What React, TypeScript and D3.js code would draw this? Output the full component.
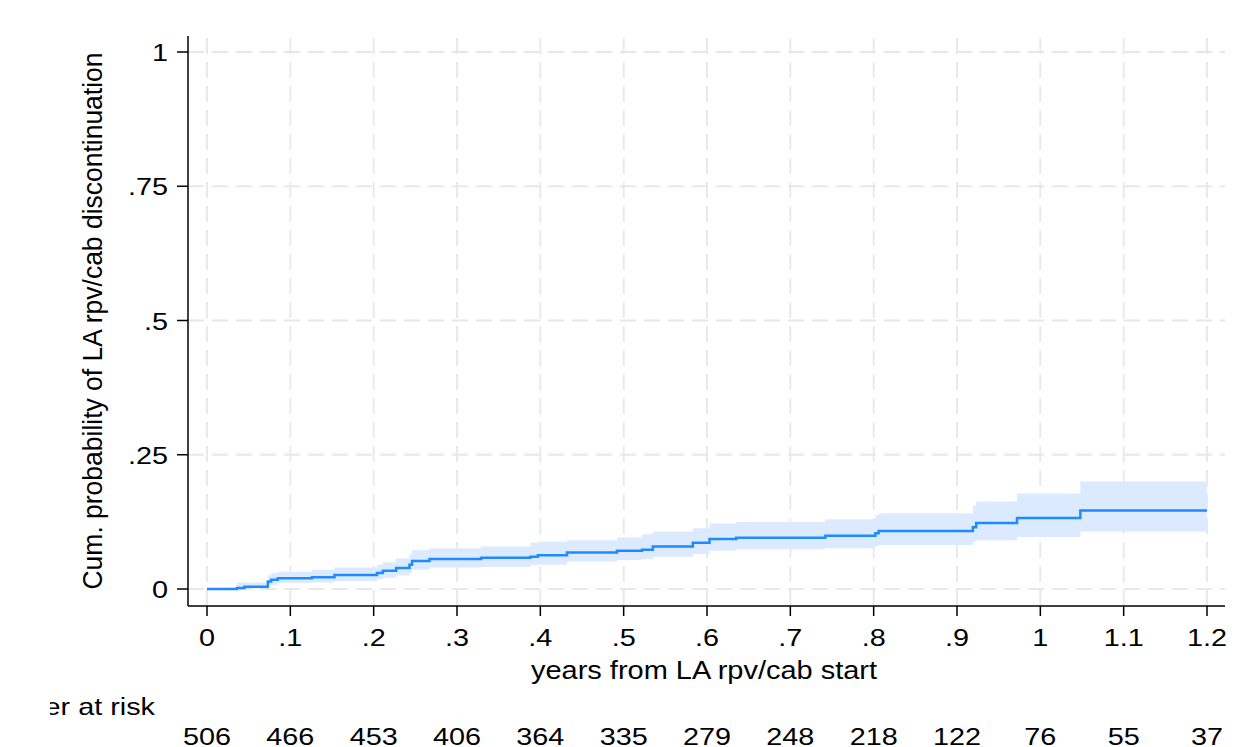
import React, { useEffect } from 'react'
import * as d3 from 'd3'

// step times (years) and cumulative incidence with 95% CI
const times = [0, 0.036, 0.045, 0.073, 0.077, 0.085, 0.126, 0.153, 0.204, 0.211, 0.227, 0.243, 0.246, 0.267, 0.329, 0.388, 0.397, 0.432, 0.492, 0.522, 0.535, 0.583, 0.603, 0.635, 0.742, 0.802, 0.806, 0.919, 0.923, 0.972, 1.048, 1.2]
const est = [0, 0.002, 0.004, 0.014, 0.017, 0.020, 0.022, 0.026, 0.030, 0.034, 0.039, 0.045, 0.052, 0.056, 0.058, 0.060, 0.063, 0.068, 0.071, 0.073, 0.079, 0.086, 0.093, 0.0955, 0.099, 0.104, 0.108, 0.115, 0.123, 0.132, 0.146, 0.146]
const lo = [0, 0, 0.001, 0.006, 0.008, 0.011, 0.012, 0.015, 0.018, 0.021, 0.025, 0.030, 0.036, 0.040, 0.041, 0.044, 0.045, 0.051, 0.054, 0.056, 0.060, 0.065, 0.071, 0.074, 0.076, 0.080, 0.082, 0.088, 0.091, 0.097, 0.107, 0.107]
const hi = [0, 0.012, 0.012, 0.026, 0.030, 0.032, 0.036, 0.040, 0.045, 0.050, 0.057, 0.065, 0.072, 0.076, 0.079, 0.086, 0.088, 0.091, 0.096, 0.102, 0.107, 0.113, 0.122, 0.125, 0.130, 0.138, 0.141, 0.155, 0.163, 0.178, 0.200, 0.200]

const xTicks = [0, 0.1, 0.2, 0.3, 0.4, 0.5, 0.6, 0.7, 0.8, 0.9, 1, 1.1, 1.2]
const xTickLabels = ['0', '.1', '.2', '.3', '.4', '.5', '.6', '.7', '.8', '.9', '1', '1.1', '1.2']
const yTicks = [0, 0.25, 0.5, 0.75, 1]
const yTickLabels = ['0', '.25', '.5', '.75', '1']
const atRisk = [506, 466, 453, 406, 364, 335, 279, 248, 218, 122, 76, 55, 37]

const W = 1254
const H = 747
const FONT = 'Liberation Sans, Arial, sans-serif'
const SX = 1.2 // text in the reference is a bit wide

export default function App() {
	useEffect(() => {
		document.body.style.margin = '0'
	}, [])

	const x = d3.scaleLinear().domain([0, 1.2]).range([207, 1207])
	const y = d3.scaleLinear().domain([0, 1]).range([589, 52])

	const pts = times.map((t, i) => ({ t, e: est[i], l: lo[i], h: hi[i] }))

	const line = d3.line<any>()
		.x(d => x(d.t))
		.y(d => y(d.e))
		.curve(d3.curveStepAfter)

	const band = d3.area<any>()
		.x(d => x(d.t))
		.y0(d => y(d.l))
		.y1(d => y(d.h))
		.curve(d3.curveStepAfter)

	const axisX0 = 188
	const axisX1 = 1225
	const axisY = 606
	const top = 36

	return (
		<svg width={W} height={H} style={{ display: 'block', background: '#fff' }} fontFamily={FONT}>
			<defs>
				<clipPath id="leftclip">
					<rect x={50} y={0} width={W} height={H} />
				</clipPath>
			</defs>

			{/* grid */}
			<g stroke="#e7e7e7" strokeWidth={1.8} strokeDasharray="16 8">
				{xTicks.map((t, i) => (
					<line key={`vg-${i}`} x1={x(t)} x2={x(t)} y1={axisY} y2={top} />
				))}
				{yTicks.map((v, i) => (
					<line key={`hg-${i}`} x1={axisX0} x2={axisX1} y1={y(v)} y2={y(v)} />
				))}
			</g>

			{/* confidence band + estimate */}
			<path d={band(pts) || ''} fill="#dbeaff" stroke="none" />
			<path d={line(pts) || ''} fill="none" stroke="#1e8cff" strokeWidth={2.5} />

			{/* axes */}
			<g stroke="#000" strokeWidth={1.5}>
				<line x1={axisX0} x2={axisX0} y1={top} y2={axisY} />
				<line x1={axisX0} x2={axisX1} y1={axisY} y2={axisY} />
				{xTicks.map((t, i) => (
					<line key={`xt-${i}`} x1={x(t)} x2={x(t)} y1={axisY} y2={axisY + 10} />
				))}
				{yTicks.map((v, i) => (
					<line key={`yt-${i}`} x1={axisX0 - 11} x2={axisX0} y1={y(v)} y2={y(v)} />
				))}
			</g>

			<g fontSize={24} fill="#000">
				{xTicks.map((t, i) => (
					<text key={`xl-${i}`} transform={`translate(${x(t)},646) scale(${SX},1)`} textAnchor="middle">
						{xTickLabels[i]}
					</text>
				))}
				{yTicks.map((v, i) => (
					<text key={`yl-${i}`} transform={`translate(168,${y(v) + 9}) scale(${SX},1)`} textAnchor="end">
						{yTickLabels[i]}
					</text>
				))}

				<text x={704} y={679} textAnchor="middle" fontSize={25} textLength={346} lengthAdjust="spacingAndGlyphs">
					years from LA rpv/cab start
				</text>

				<text transform={`translate(102,321) rotate(-90)`} textAnchor="middle" fontSize={27} textLength={537} lengthAdjust="spacingAndGlyphs">
					Cum. probability of LA rpv/cab discontinuation
				</text>

				<g clipPath="url(#leftclip)">
					<text transform={`translate(155,715) scale(${SX},1)`} textAnchor="end">
						Number at risk
					</text>
				</g>

				{atRisk.map((n, i) => (
					<text key={`ar-${i}`} transform={`translate(${x(xTicks[i])},745) scale(${SX},1)`} textAnchor="middle">
						{n}
					</text>
				))}
			</g>
		</svg>
	)
}
